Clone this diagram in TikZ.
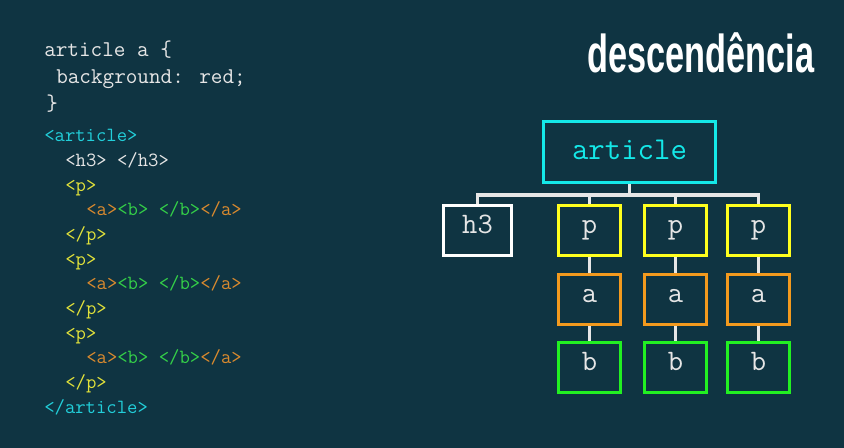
\documentclass[tikz,border=0pt]{standalone}
\usepackage{fontspec}
\newfontfamily\titlefont[FakeStretch=0.643]{Liberation Sans}
\usetikzlibrary{positioning}
\definecolor{bgteal}{HTML}{0F3442}
\definecolor{codewhite}{HTML}{E6E6E6}
\definecolor{tagcyan}{HTML}{22CFDA}
\definecolor{tagyellow}{HTML}{E2E23A}
\definecolor{tagorange}{HTML}{DA8A2E}
\definecolor{taggreen}{HTML}{34D048}
\definecolor{artcyan}{HTML}{14E8E8}
\definecolor{pyellow}{HTML}{FFFF1E}
\definecolor{aorange}{HTML}{F39A1E}
\definecolor{bgreen}{HTML}{22F022}

\begin{document}
\begin{tikzpicture}[x=0.75pt,y=-0.75pt,
  css/.style={anchor=base west,inner sep=0pt,text=codewhite,font=\ttfamily\fontsize{16.9pt}{19pt}\selectfont},
  tag/.style={anchor=base west,inner sep=0pt,font=\ttfamily\fontsize{15.1pt}{17pt}\selectfont},
  box/.style={draw,line width=2.25pt,minimum width=46.5pt,minimum height=37.5pt,inner sep=0pt,text=codewhite,
    font=\ttfamily\fontsize{22.3pt}{25pt}\selectfont,text height=10pt,text depth=5.7pt},
  link/.style={draw=codewhite,line width=2.4pt},
  node distance=11.5pt]
\fill[bgteal] (0,0) rectangle (844,448); %background

%css rule
\node[css] (sel) at (44,56.7) {article a \{};
\node[css] (decl) at (56,84) {background: red;};
\node[css] (close) at (46,111) {\}};

%html
\node[tag,text=tagcyan] (artopen) at (44,141.7) {<article>};
\node[tag,text=codewhite] (hline) at (65,166.4) {<h3> </h3>};
\node[tag,text=tagyellow] (popen1) at (65,191.1) {<p>};
\node[tag,text=tagorange] (aline1) at (86,215.8) {<a>\textcolor{taggreen}{<b> </b>}</a>};
\node[tag,text=tagyellow] (pclose1) at (65,240.5) {</p>};
\node[tag,text=tagyellow] (popen2) at (65,265.2) {<p>};
\node[tag,text=tagorange] (aline2) at (86,289.9) {<a>\textcolor{taggreen}{<b> </b>}</a>};
\node[tag,text=tagyellow] (pclose2) at (65,314.6) {</p>};
\node[tag,text=tagyellow] (popen3) at (65,339.3) {<p>};
\node[tag,text=tagorange] (aline3) at (86,364) {<a>\textcolor{taggreen}{<b> </b>}</a>};
\node[tag,text=tagyellow] (pclose3) at (65,388.7) {</p>};
\node[tag,text=tagcyan] (artclose) at (44,413.4) {</article>};

%title
\node[anchor=base west,inner sep=0pt,text=white,font=\titlefont\bfseries\fontsize{40pt}{44pt}\selectfont] (title) at (587,72.7) {descendência};

%tree
\node[box,draw=artcyan,text=artcyan,minimum width=129pt,minimum height=45.75pt,text height=14pt,text depth=3pt,
  font=\ttfamily\fontsize{23.9pt}{26pt}\selectfont] (art) at (629.5,152) {article};
\node[box,draw=white,minimum width=51pt] (h3) at (477.5,231) {h3};
\node[box,draw=pyellow] (p1) at (589.5,231) {p}; %col 1
\node[box,draw=pyellow] (p2) at (675.5,231) {p}; %col 2
\node[box,draw=pyellow] (p3) at (758.5,231) {p}; %col 3
\node[box,draw=aorange,below=of p1] (a1) {a};
\node[box,draw=aorange,below=of p2] (a2) {a};
\node[box,draw=aorange,below=of p3] (a3) {a};
\node[box,draw=bgreen,below=of a1] (b1) {b};
\node[box,draw=bgreen,below=of a2] (b2) {b};
\node[box,draw=bgreen,below=of a3] (b3) {b};

\coordinate (bus) at (629.5,195);
\draw[link] (art.south) -- (bus);
\draw[link] (h3.north) |- (bus) -| (p3.north);
\draw[link] (p1.north) -- (p1.north |- bus);
\draw[link] (p2.north) -- (p2.north |- bus);
\draw[link] (p1) -- (a1); \draw[link] (a1) -- (b1);
\draw[link] (p2) -- (a2); \draw[link] (a2) -- (b2);
\draw[link] (p3) -- (a3); \draw[link] (a3) -- (b3);
\end{tikzpicture}
\end{document}
